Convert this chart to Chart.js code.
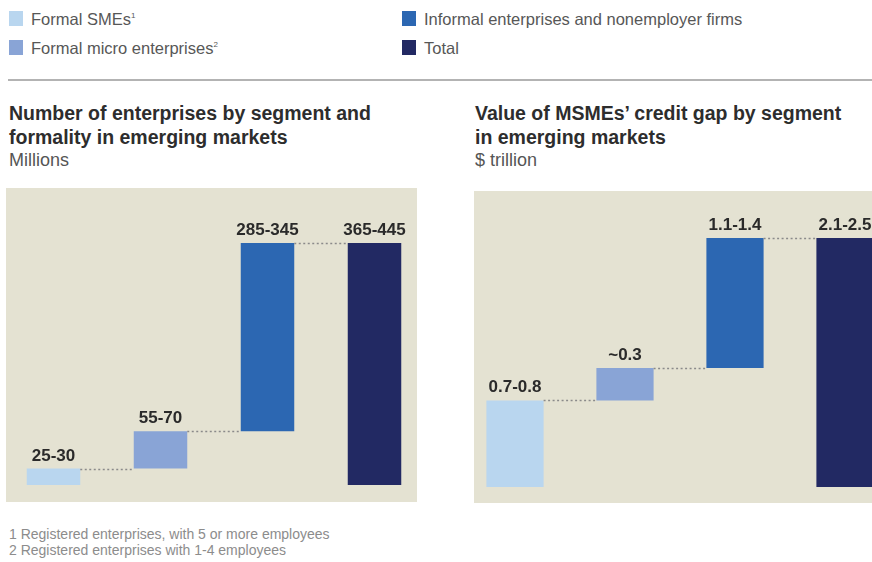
<!DOCTYPE html>
<html>
<head>
<meta charset="utf-8">
<script src="https://cdn.jsdelivr.net/npm/chart.js@4.4.1/dist/chart.umd.min.js"></script>
<style>
  html, body { margin: 0; padding: 0; }
  body {
    width: 872px; height: 562px; overflow: hidden; position: relative;
    background: #fff; font-family: "Liberation Sans", Arial, sans-serif;
  }
  .legend-item { position: absolute; font-size: 16.5px; color: #575757; line-height: 18px; }
  .legend-item i { position: absolute; left: -22px; top: 1px; width: 14px; height: 15px; }
  .legend-item sup { font-size: 8px; vertical-align: 7px; line-height: 0; }
  .rule { position: absolute; left: 8px; right: 0; top: 79px; height: 2px; background: #b3b3b3; }
  .title { position: absolute; top: 101px; font-size: 19.5px; font-weight: bold; color: #2d2d2d; line-height: 24px; white-space: nowrap; }
  .title span { display: block; font-weight: normal; font-size: 18px; color: #555; line-height: 23px; }
  .panel { position: absolute; background: #e4e2d2; }
  .chart-box { position: absolute; }
  .notes { position: absolute; left: 9px; top: 526px; font-size: 14px; color: #8c8c8c; line-height: 16px; }
</style>
</head>
<body>
  <div class="legend-item" style="left:31px; top:10px;"><i style="background:#b9d6ef"></i>Formal SMEs<sup>1</sup></div>
  <div class="legend-item" style="left:31px; top:39px;"><i style="background:#89a4d6"></i>Formal micro enterprises<sup>2</sup></div>
  <div class="legend-item" style="left:424px; top:10px;"><i style="background:#2c67b2"></i>Informal enterprises and nonemployer firms</div>
  <div class="legend-item" style="left:424px; top:39px;"><i style="background:#222963"></i>Total</div>
  <div class="rule"></div>

  <div class="title" style="left:9px;">Number of enterprises by segment and<br>formality in emerging markets<span>Millions</span></div>
  <div class="title" style="left:475px;">Value of MSMEs’ credit gap by segment<br>in emerging markets<span>$ trillion</span></div>

  <div class="panel" style="left:6px; top:188px; width:411px; height:314px;"></div>
  <div class="panel" style="left:474px; top:191px; width:420px; height:312px;"></div>

  <div class="chart-box" style="left:0; top:188px; width:428px; height:314px;"><canvas id="enterprisesChart"></canvas></div>
  <div class="chart-box" style="left:460px; top:191px; width:440px; height:312px;"><canvas id="creditGapChart"></canvas></div>

  <div class="notes">1 Registered enterprises, with 5 or more employees<br>2 Registered enterprises with 1-4 employees</div>

<script>
const segments = ['Formal SMEs', 'Formal micro enterprises', 'Informal enterprises and nonemployer firms', 'Total'];
const segmentColors = ['#b9d6ef', '#89a4d6', '#2c67b2', '#222963'];

// Millions of enterprises (midpoints of the ranges), last entry is the total
const enterpriseValues = [27.5, 62.5, 315, 405];
const enterpriseLabels = ['25-30', '55-70', '285-345', '365-445'];

// Credit gap, $ trillion, last entry is the total
const creditGapValues = [0.8, 0.3, 1.2, 2.3];
const creditGapLabels = ['0.7-0.8', '~0.3', '1.1-1.4', '2.1-2.5'];

// turn segment values into floating [start, end] bars; the last bar starts at zero
function waterfall(values) {
  let running = 0;
  return values.map((v, i) => {
    if (i === values.length - 1) return [0, v];
    const bar = [running, running + v];
    running += v;
    return bar;
  });
}

const waterfallPlugin = {
  id: 'waterfall',
  afterDatasetsDraw(chart, args, opts) {
    const ctx = chart.ctx;
    const bars = chart.getDatasetMeta(0).data;
    ctx.save();
    // dotted connectors between neighbouring bars
    ctx.strokeStyle = '#8a8a8a';
    ctx.lineWidth = 1.5;
    ctx.setLineDash([2, 2.5]);
    for (let i = 0; i < bars.length - 1; i++) {
      const a = bars[i], b = bars[i + 1];
      const y = Math.round(Math.min(a.y, a.base)) + 0.5;
      ctx.beginPath();
      ctx.moveTo(a.x + a.width / 2, y);
      ctx.lineTo(b.x - b.width / 2, y);
      ctx.stroke();
    }
    ctx.setLineDash([]);
    // range labels above each bar
    ctx.fillStyle = '#2a2a2a';
    ctx.font = 'bold 17px "Liberation Sans", Arial, sans-serif';
    ctx.textAlign = 'center';
    ctx.textBaseline = 'alphabetic';
    bars.forEach((bar, i) => {
      const top = Math.min(bar.y, bar.base);
      ctx.fillText(opts.labels[i], bar.x, top - 8);
    });
    ctx.restore();
  }
};

function makeChart(id, values, labels, max, padding, barPct) {
  return new Chart(document.getElementById(id), {
    type: 'bar',
    data: {
      labels: segments,
      datasets: [{
        data: waterfall(values),
        backgroundColor: segmentColors,
        borderWidth: 0,
        barPercentage: barPct,
        categoryPercentage: 1
      }]
    },
    options: {
      responsive: true,
      maintainAspectRatio: false,
      animation: false,
      layout: { padding: padding },
      scales: {
        x: { display: false },
        y: { display: false, min: 0, max: max }
      },
      plugins: {
        legend: { display: false },
        tooltip: { enabled: false },
        waterfall: { labels: labels }
      }
    },
    plugins: [waterfallPlugin]
  });
}

makeChart('enterprisesChart', enterpriseValues, enterpriseLabels, 405, { top: 55, bottom: 17, left: 0, right: 0 }, 0.5);
makeChart('creditGapChart', creditGapValues, creditGapLabels, 2.3, { top: 47, bottom: 16, left: 0, right: 0 }, 0.52);
</script>
</body>
</html>
